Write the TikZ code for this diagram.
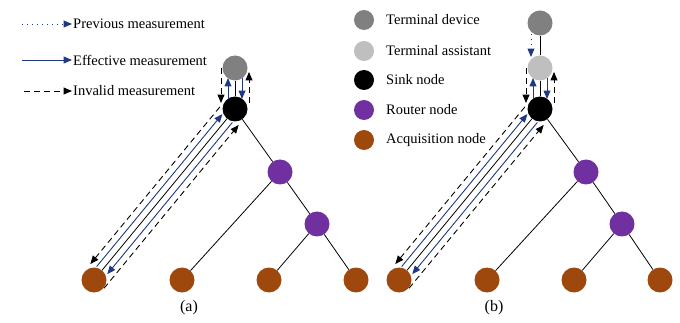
\documentclass[tikz,border=0pt]{standalone}
\usepackage{fontspec}
\setmainfont{Liberation Serif}
\usetikzlibrary{arrows,calc}
\definecolor{devgray}{RGB}{128,128,128}
\definecolor{asstgray}{RGB}{191,191,191}
\definecolor{routerpurple}{RGB}{112,48,160}
\definecolor{acqbrown}{RGB}{158,72,14}
\definecolor{effblue}{RGB}{31,56,130}
\tikzset{
  nd/.style={circle,inner sep=0pt,minimum size=25pt},
  lgnd/.style={circle,inner sep=0pt,minimum size=20pt},
  devnode/.style={nd,fill=devgray},
  asstnode/.style={nd,fill=asstgray},
  sinknode/.style={nd,fill=black},
  routernode/.style={nd,fill=routerpurple},
  acqnode/.style={nd,fill=acqbrown},
  lbl/.style={anchor=west,inner sep=1pt},
  tree/.style={line width=0.8pt},
  prevm/.style={->,effblue,line width=0.9pt,dash pattern=on 1pt off 4pt},
  effm/.style={->,effblue,line width=0.9pt},
  invm/.style={->,black,line width=0.9pt,dash pattern=on 6pt off 4pt}
}
\begin{document}
\begin{tikzpicture}[line cap=butt,line join=round,>=triangle 45,x=1pt,y=-1pt,
  font=\fontsize{14.5}{17}\selectfont]
\useasboundingbox (0,0) rectangle (680,323);
% legend (a)
\node[lbl] (txtprev) at (72,24) {Previous measurement};
\node[lbl] (txteff) at (72,60) {Effective measurement};
\node[lbl] (txtinv) at (72,91) {Invalid measurement};
\coordinate (lgprev) at (22,24);
\coordinate (lgeff) at (22,60);
\coordinate (lginv) at (24,91);
\draw[prevm] (lgprev) -- (txtprev.west);
\draw[effm] (lgeff) -- (txteff.west);
\draw[invm] (lginv) -- (txtinv.west);
% legend (b)
\node[lgnd,fill=devgray] (lgdev) at (364,20) {};
\node[lgnd,fill=asstgray] (lgasst) at (364,51) {};
\node[lgnd,fill=black] (lgsink) at (364,80) {};
\node[lgnd,fill=routerpurple] (lgrouter) at (364,110) {};
\node[lgnd,fill=acqbrown] (lgacq) at (364,140) {};
\node[lbl] at (385,20) {Terminal device};
\node[lbl] at (385,51) {Terminal assistant};
\node[lbl] at (385,80) {Sink node};
\node[lbl] at (385,110) {Router node};
\node[lbl] at (385,140) {Acquisition node};
% tree (a)
\node[devnode] (devA) at (235,68) {};
\node[sinknode] (sinkA) at (235,109) {};
\node[routernode] (rtA1) at (280,172) {};
\node[routernode] (rtA2) at (317,224) {};
\node[acqnode] (acqA1) at (94,280) {};
\node[acqnode] (acqA2) at (182,280) {};
\node[acqnode] (acqA3) at (269,280) {};
\node[acqnode] (acqA4) at (356,280) {};
\draw[tree] (devA) -- (sinkA);
\draw[tree] (sinkA) -- (acqA1);
\draw[tree] (sinkA) -- (rtA1);
\draw[tree] (rtA1) -- (acqA2);
\draw[tree] (rtA1) -- (rtA2);
\draw[tree] (rtA2) -- (acqA3);
\draw[tree] (rtA2) -- (acqA4);
\node[font=\fontsize{16}{18}\selectfont] at (189,308) {(a)};
% tree (b)
\node[devnode] (devB) at (540,23) {};
\node[asstnode] (asstB) at (540,68) {};
\node[sinknode] (sinkB) at (540,109) {};
\node[routernode] (rtB1) at (586,172) {};
\node[routernode] (rtB2) at (622,224) {};
\node[acqnode] (acqB1) at (399,280) {};
\node[acqnode] (acqB2) at (487,280) {};
\node[acqnode] (acqB3) at (574,280) {};
\node[acqnode] (acqB4) at (660,280) {};
\draw[tree] (devB) -- (asstB);
\draw[tree] (asstB) -- (sinkB);
\draw[tree] (sinkB) -- (acqB1);
\draw[tree] (sinkB) -- (rtB1);
\draw[tree] (rtB1) -- (acqB2);
\draw[tree] (rtB1) -- (rtB2);
\draw[tree] (rtB2) -- (acqB3);
\draw[tree] (rtB2) -- (acqB4);
\node[font=\fontsize{16}{18}\selectfont] at (494,308) {(b)};
\draw[prevm,shorten <=11pt,shorten >=11pt] ($(devB)!9pt!-90:(asstB)$) -- ($(asstB)!9pt!90:(devB)$);
% measurements
\foreach \up/\sink/\leaf in {devA/sinkA/acqA1,asstB/sinkB/acqB1}{
  \draw[invm,shorten <=0pt,shorten >=6pt] ($(\up)!14pt!-90:(\sink)$) -- ($(\sink)!14pt!90:(\up)$);
  \draw[effm,shorten <=10pt,shorten >=10pt] ($(\sink)!7pt!90:(\up)$) -- ($(\up)!7pt!-90:(\sink)$);
  \draw[effm,shorten <=10pt,shorten >=10pt] ($(\up)!7pt!90:(\sink)$) -- ($(\sink)!7pt!-90:(\up)$);
  \draw[invm,shorten <=6pt,shorten >=4pt] ($(\sink)!14pt!-90:(\up)$) -- ($(\up)!14pt!90:(\sink)$);
  \draw[invm,shorten <=8pt,shorten >=10pt] ($(\sink)!13pt!-90:(\leaf)$) -- ($(\leaf)!13pt!90:(\sink)$);
  \draw[effm,shorten <=12pt,shorten >=12pt] ($(\leaf)!6.5pt!90:(\sink)$) -- ($(\sink)!6.5pt!-90:(\leaf)$);
  \draw[effm,shorten <=12pt,shorten >=13pt] ($(\sink)!6.5pt!90:(\leaf)$) -- ($(\leaf)!6.5pt!-90:(\sink)$);
  \draw[invm,shorten <=0pt,shorten >=10pt] ($(\leaf)!13pt!-90:(\sink)$) -- ($(\sink)!13pt!90:(\leaf)$);
}
\end{tikzpicture}
\end{document}
